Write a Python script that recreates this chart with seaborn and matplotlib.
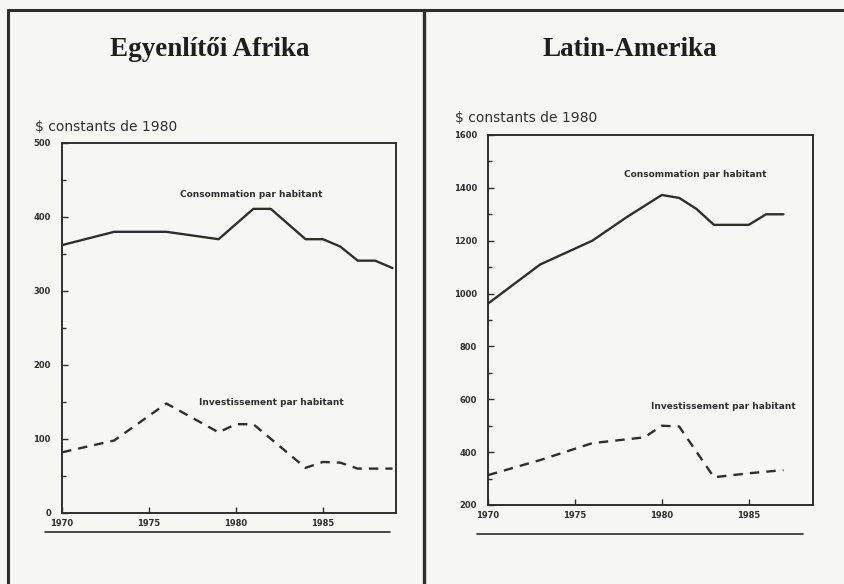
import matplotlib
matplotlib.use("Agg")
import matplotlib.pyplot as plt
import seaborn as sns
import pandas as pd
from matplotlib.lines import Line2D
from matplotlib.ticker import MultipleLocator

# Egyenlítői Afrika
afr_cons_years = [1970, 1973, 1976, 1979, 1981, 1982, 1984, 1985, 1986, 1987, 1988, 1989]
afr_cons = [362, 380, 380, 370, 411, 411, 370, 370, 360, 341, 341, 331]
afr_inv_years = [1970, 1973, 1976, 1979, 1980, 1981, 1984, 1985, 1986, 1987, 1989]
afr_inv = [82, 98, 148, 109, 120, 120, 61, 69, 68, 60, 60]

# Latin-Amerika
lat_cons_years = [1970, 1973, 1976, 1978, 1980, 1981, 1982, 1983, 1985, 1986, 1987]
lat_cons = [962, 1110, 1200, 1290, 1373, 1362, 1320, 1260, 1260, 1300, 1300]
lat_inv_years = [1970, 1973, 1976, 1979, 1980, 1981, 1983, 1985, 1987]
lat_inv = [313, 370, 434, 456, 500, 497, 305, 320, 332]

year_ticks = [1970, 1975, 1980, 1985]
unit_label = "$ constants de 1980"
cons_label = "Consommation par habitant"
inv_label = "Investissement par habitant"

sns.set_style("ticks")
plt.rcParams['font.family'] = ['DejaVu Sans']

paper = '#f6f6f3'
ink = '#2e2e2e'

fig = plt.figure(figsize=(8.45, 5.84), dpi=100, facecolor=paper)
W, H = 845, 584


def px_box(x0, y0, x1, y1):
    # pixel box (top-left origin) -> figure fraction rect
    return [x0 / W, 1 - y1 / H, (x1 - x0) / W, (y1 - y0) / H]


def draw_panel(ax, cy, cv, iy, iv, ylim, major, minor, xmax, cons_pos, inv_pos):
    ax.set_facecolor(paper)
    df_c = pd.DataFrame({'annee': cy, 'valeur': cv})
    df_i = pd.DataFrame({'annee': iy, 'valeur': iv})
    sns.lineplot(data=df_c, x='annee', y='valeur', ax=ax, color=ink, linewidth=1.7)
    sns.lineplot(data=df_i, x='annee', y='valeur', ax=ax, color=ink, linewidth=1.7,
                 linestyle=(0, (4, 3)))
    ax.set_xlim(1970, xmax)
    ax.set_ylim(*ylim)
    ax.set_xticks(year_ticks)
    ax.set_xticklabels([str(y) for y in year_ticks], fontsize=6, fontweight='bold', color=ink)
    ax.yaxis.set_major_locator(MultipleLocator(major))
    ax.yaxis.set_minor_locator(MultipleLocator(minor))
    ax.tick_params(axis='both', which='both', direction='in', colors=ink)
    ax.tick_params(axis='both', which='major', length=4, width=1)
    ax.tick_params(axis='both', which='minor', length=3, width=1)
    ax.tick_params(axis='x', pad=4)
    ax.tick_params(axis='y', pad=8)
    ax.set_xlabel('')
    ax.set_ylabel('')
    fig.canvas.draw()
    ylabs = ax.get_yticklabels()
    for lab in ylabs:
        lab.set_fontsize(6)
        lab.set_fontweight('bold')
        lab.set_color(ink)
    # lowest value sits just above the year labels, as in the print
    ylabs[0].set_va('bottom')
    for s in ax.spines.values():
        s.set_color(ink)
        s.set_linewidth(1.4)
    ax.text(cons_pos[0], cons_pos[1], cons_label, fontsize=6.5, fontweight='bold',
            color=ink, ha='left', va='center')
    ax.text(inv_pos[0], inv_pos[1], inv_label, fontsize=6.5, fontweight='bold',
            color=ink, ha='left', va='center')


ax1 = fig.add_axes(px_box(62, 143, 396, 513))
draw_panel(ax1, afr_cons_years, afr_cons, afr_inv_years, afr_inv,
           (0, 500), 100, 50, 1989.2, (1976.8, 430), (1977.9, 149))

ax2 = fig.add_axes(px_box(488, 135, 813, 505))
draw_panel(ax2, lat_cons_years, lat_cons, lat_inv_years, lat_inv,
           (200, 1600), 200, 100, 1988.7, (1977.8, 1449), (1979.4, 573))

# titles and unit labels
fig.text(210 / W, 1 - 50 / H, "Egyenlítői Afrika", fontsize=19.5, fontweight='bold',
         family='Liberation Serif', ha='center', va='center', color='#1e1e1e')
fig.text(630 / W, 1 - 50 / H, "Latin-Amerika", fontsize=19.5, fontweight='bold',
         family='Liberation Serif', ha='center', va='center', color='#1e1e1e')
fig.text(35 / W, 1 - 127 / H, unit_label, fontsize=10, color=ink, ha='left', va='center')
fig.text(455 / W, 1 - 118 / H, unit_label, fontsize=10, color=ink, ha='left', va='center')

# frame of the page and rules under the charts
frame = [
    ((8, 845), (10, 10), 2.2),
    ((8, 8), (10, 584), 2.2),
    ((424, 424), (10, 584), 2.4),
    ((45, 390), (532, 532), 1.2),
    ((477, 803), (534, 534), 1.2),
]
for xs, ys, lw in frame:
    fig.add_artist(Line2D([x / W for x in xs], [1 - y / H for y in ys],
                          color=ink, linewidth=lw, transform=fig.transFigure))

fig.savefig("out.png", dpi=100, facecolor=paper)
